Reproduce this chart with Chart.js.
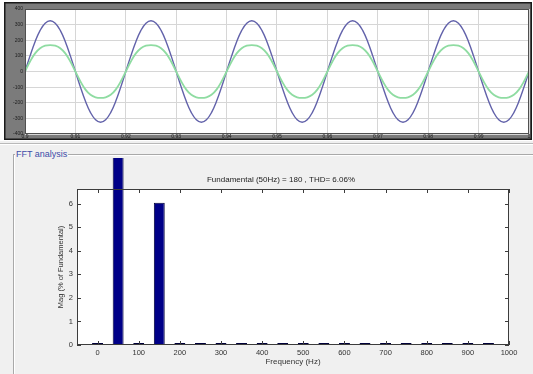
<!DOCTYPE html>
<html><head><meta charset="utf-8">
<script src="https://cdn.jsdelivr.net/npm/chart.js@4"></script>
<style>
html,body{margin:0;padding:0;width:533px;height:374px;overflow:hidden;background:#f0f0f0;font-family:"Liberation Sans",Arial,sans-serif;}
#whiteTop{position:absolute;left:0;top:0;width:533px;height:141px;background:#fff;}
#topWrap{position:absolute;left:4px;top:2px;width:528px;height:138px;}
#sep{position:absolute;left:0;top:143px;width:533px;height:0;border-top:1px solid #b9b9b9;border-bottom:1px solid #fff;}
#grp{position:absolute;left:13px;top:154px;width:530px;height:230px;border-top:1px solid #a9a9a9;border-left:1px solid #a9a9a9;box-shadow:inset 1px 1px 0 #fff;}
#grpTitle{position:absolute;left:15px;top:148px;padding:0 1px;background:#f0f0f0;color:#3d4ca8;font:9px "Liberation Sans",Arial,sans-serif;line-height:12px;}
#botWrap{position:absolute;left:53px;top:150px;width:480px;height:224px;}
</style></head>
<body>
<div id="whiteTop"></div>
<div id="topWrap"><canvas id="top" width="528" height="138"></canvas></div>
<div id="sep"></div>
<div id="grp"></div>
<div id="grpTitle">FFT analysis</div>
<div id="botWrap"><canvas id="bot" width="480" height="224"></canvas></div>
<script>
// ---- Waveform data (time in s) ----
const timeS = [
0.900,0.901,0.902,0.903,0.904,0.905,0.906,0.907,0.908,0.909,
0.910,0.911,0.912,0.913,0.914,0.915,0.916,0.917,0.918,0.919,
0.920,0.921,0.922,0.923,0.924,0.925,0.926,0.927,0.928,0.929,
0.930,0.931,0.932,0.933,0.934,0.935,0.936,0.937,0.938,0.939,
0.940,0.941,0.942,0.943,0.944,0.945,0.946,0.947,0.948,0.949,
0.950,0.951,0.952,0.953,0.954,0.955,0.956,0.957,0.958,0.959,
0.960,0.961,0.962,0.963,0.964,0.965,0.966,0.967,0.968,0.969,
0.970,0.971,0.972,0.973,0.974,0.975,0.976,0.977,0.978,0.979,
0.980,0.981,0.982,0.983,0.984,0.985,0.986,0.987,0.988,0.989,
0.990,0.991,0.992,0.993,0.994,0.995,0.996,0.997,0.998,0.999,
1.000];
const blueV = [
0,100,191,263,309,325,309,263,191,100,0,-100,-191,-263,-309,-325,-309,-263,-191,-100,
0,100,191,263,309,325,309,263,191,100,0,-100,-191,-263,-309,-325,-309,-263,-191,-100,
0,100,191,263,309,325,309,263,191,100,0,-100,-191,-263,-309,-325,-309,-263,-191,-100,
0,100,191,263,309,325,309,263,191,100,0,-100,-191,-263,-309,-325,-309,-263,-191,-100,
0,100,191,263,309,325,309,263,191,100,0,-100,-191,-263,-309,-325,-309,-263,-191,-100,
0];
const greenV = [
0,64,116,149,165,169,165,149,116,64,0,-64,-116,-149,-165,-169,-165,-149,-116,-64,
0,64,116,149,165,169,165,149,116,64,0,-64,-116,-149,-165,-169,-165,-149,-116,-64,
0,64,116,149,165,169,165,149,116,64,0,-64,-116,-149,-165,-169,-165,-149,-116,-64,
0,64,116,149,165,169,165,149,116,64,0,-64,-116,-149,-165,-169,-165,-149,-116,-64,
0,64,116,149,165,169,165,149,116,64,0,-64,-116,-149,-165,-169,-165,-149,-116,-64,
0];

// ---- FFT data ----
const freqHz = [0,50,100,150,200,250,300,350,400,450,500,550,600,650,700,750,800,850,900,950];
const magPct = [0.02,100,0.08,6.05,0.05,0.08,0.05,0.04,0.02,0.02,0.02,0.04,0.03,0.05,0.03,0.06,0.03,0.03,0.02,0.03];
const freqTicks = [0,100,200,300,400,500,600,700,800,900,1000];
const magTicks = [0,1,2,3,4,5,6];
const fftTitle = 'Fundamental (50Hz) = 180 , THD= 6.06%';

const FONT = '"Liberation Sans", Arial, sans-serif';

const topFrame = {
  id: 'topFrame',
  beforeDraw(c) {
    const {ctx, chartArea: a, width, height} = c;
    ctx.save();
    ctx.fillStyle = '#7b7b7b';
    ctx.fillRect(0, 0, width, height);
    ctx.fillStyle = '#ffffff';
    ctx.fillRect(a.left, a.top, a.right - a.left, a.bottom - a.top);
    ctx.restore();
  },
  afterDraw(c) {
    const {ctx, chartArea: a, width, height} = c;
    ctx.save();
    ctx.strokeStyle = '#505050';
    ctx.lineWidth = 1;
    ctx.strokeRect(a.left + 0.5, a.top + 0.5, a.right - a.left - 1, a.bottom - a.top - 1);
    ctx.strokeStyle = '#1a1a1a';
    ctx.lineWidth = 1.5;
    ctx.strokeRect(0.75, 0.75, width - 1.5, height - 1.5);
    ctx.restore();
  }
};

new Chart(document.getElementById('top'), {
  type: 'line',
  data: {
    datasets: [
      {data: timeS.map((t, i) => ({x: t, y: greenV[i]})), borderColor: '#8fdca2', borderWidth: 1.8, pointRadius: 0, tension: 0.4, fill: false},
      {data: timeS.map((t, i) => ({x: t, y: blueV[i]})), borderColor: '#6262aa', borderWidth: 1.4, pointRadius: 0, tension: 0.4, fill: false}
    ]
  },
  options: {
    responsive: false, animation: false,
    layout: {padding: {left: 0, top: 7, right: 3, bottom: 0}},
    plugins: {legend: {display: false}, tooltip: {enabled: false}},
    scales: {
      x: {
        type: 'linear', min: 0.9, max: 1.0,
        afterFit: s => { s.height = 6; },
        border: {display: false},
        grid: {color: '#d6d6d6', drawTicks: false},
        ticks: {stepSize: 0.01, padding: 0, color: '#1e1e1e', font: {family: FONT, size: 5}, maxRotation: 0, autoSkip: false,
          callback: v => String(Number(v.toFixed(2)))}
      },
      y: {
        min: -400, max: 400,
        afterFit: s => { s.width = 21; },
        border: {display: false},
        grid: {color: '#d6d6d6', drawTicks: false},
        ticks: {stepSize: 100, padding: 2, color: '#1e1e1e', font: {family: FONT, size: 5}}
      }
    }
  },
  plugins: [topFrame]
});

const fftFrame = {
  id: 'fftFrame',
  beforeDraw(c) {
    const {ctx, chartArea: a} = c;
    ctx.save();
    ctx.fillStyle = '#ffffff';
    ctx.fillRect(a.left, a.top, a.right - a.left, a.bottom - a.top);
    ctx.restore();
  },
  afterDraw(c) {
    const {ctx, chartArea: a, scales} = c;
    ctx.save();
    ctx.strokeStyle = '#3c3c3c';
    ctx.lineWidth = 1;
    ctx.strokeRect(a.left + 0.5, a.top + 0.5, a.right - a.left - 1, a.bottom - a.top - 1);
    const L = 4;
    ctx.beginPath();
    scales.x.ticks.forEach(t => {
      const px = Math.round(scales.x.getPixelForValue(t.value)) + 0.5;
      ctx.moveTo(px, a.bottom); ctx.lineTo(px, a.bottom - L);
      ctx.moveTo(px, a.top); ctx.lineTo(px, a.top + L);
    });
    scales.y.ticks.forEach(t => {
      const py = Math.round(scales.y.getPixelForValue(t.value)) + 0.5;
      ctx.moveTo(a.left, py); ctx.lineTo(a.left + L, py);
      ctx.moveTo(a.right, py); ctx.lineTo(a.right - L, py);
    });
    ctx.stroke();
    ctx.restore();
  }
};

new Chart(document.getElementById('bot'), {
  type: 'bar',
  data: {
    datasets: [{
      data: freqHz.map((f, i) => ({x: f, y: magPct[i]})),
      backgroundColor: '#000088', borderColor: '#00003a', borderWidth: 1,
      barPercentage: 0.53, categoryPercentage: 1.0, minBarLength: 2,
      clip: {left: 0, top: 31, right: 0, bottom: 0}
    }]
  },
  options: {
    responsive: false, animation: false,
    layout: {padding: {left: 0, top: 0, right: 24, bottom: 0}},
    plugins: {
      legend: {display: false}, tooltip: {enabled: false},
      title: {display: true, text: fftTitle, color: '#222', font: {family: FONT, size: 8, weight: 'normal'}, padding: {top: 25, bottom: 4.4}}
    },
    scales: {
      x: {
        type: 'linear', min: -50, max: 1000, offset: false,
        afterFit: s => { s.height = 29; },
        afterBuildTicks: s => { s.ticks = freqTicks.map(v => ({value: v})); },
        border: {display: false},
        grid: {display: false, drawTicks: false, offset: false},
        ticks: {padding: 3, color: '#333', font: {family: FONT, size: 7.5}, maxRotation: 0, autoSkip: false,
          callback: v => String(v)},
        title: {display: true, text: 'Frequency (Hz)', color: '#333', font: {family: FONT, size: 8}, padding: {top: 0, bottom: 7}}
      },
      y: {
        min: 0, max: 6.63,
        afterFit: s => { s.width = 24; },
        afterBuildTicks: s => { s.ticks = magTicks.map(v => ({value: v})); },
        border: {display: false},
        grid: {display: false, drawTicks: false},
        ticks: {padding: 4, color: '#333', font: {family: FONT, size: 7.5}, callback: v => String(v)},
        title: {display: true, text: 'Mag (% of Fundamental)', color: '#333', font: {family: FONT, size: 7.5}, padding: {top: 3, bottom: 0}}
      }
    }
  },
  plugins: [fftFrame]
});
</script>
</body></html>
